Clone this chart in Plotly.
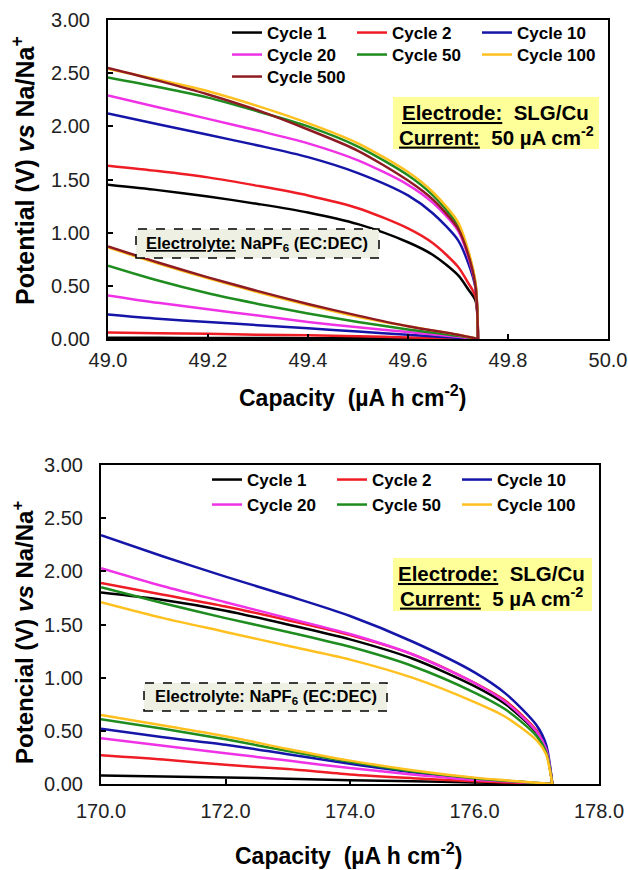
import plotly.graph_objects as go

# ---------------- DATA ----------------
cycles_top = ["Cycle 1", "Cycle 2", "Cycle 10", "Cycle 20", "Cycle 50", "Cycle 100", "Cycle 500"]
cycles_bot = ["Cycle 1", "Cycle 2", "Cycle 10", "Cycle 20", "Cycle 50", "Cycle 100"]

# Top panel (50 uA cm-2): upper (high-potential) branch
top_x_up = [49.0, 49.1, 49.2, 49.3, 49.4, 49.5, 49.6, 49.65, 49.7, 49.72, 49.735, 49.74]
top_up = {
    "Cycle 1":   [1.45, 1.40, 1.34, 1.27, 1.19, 1.08, 0.91, 0.79, 0.60, 0.47, 0.36, 0.0],
    "Cycle 2":   [1.63, 1.58, 1.52, 1.44, 1.35, 1.23, 1.04, 0.90, 0.68, 0.53, 0.40, 0.0],
    "Cycle 10":  [2.12, 2.02, 1.92, 1.82, 1.71, 1.56, 1.35, 1.18, 0.93, 0.72, 0.48, 0.0],
    "Cycle 20":  [2.29, 2.18, 2.07, 1.96, 1.84, 1.68, 1.45, 1.28, 1.02, 0.78, 0.50, 0.0],
    "Cycle 50":  [2.46, 2.37, 2.27, 2.14, 2.00, 1.81, 1.54, 1.35, 1.07, 0.82, 0.52, 0.0],
    "Cycle 100": [2.54, 2.44, 2.33, 2.19, 2.03, 1.84, 1.57, 1.38, 1.10, 0.84, 0.53, 0.0],
    "Cycle 500": [2.55, 2.43, 2.30, 2.15, 1.97, 1.77, 1.49, 1.31, 1.04, 0.80, 0.50, 0.0],
}
# Top panel: lower (low-potential) branch
top_x_low = [49.0, 49.1, 49.2, 49.3, 49.4, 49.5, 49.6, 49.7, 49.74]
top_low = {
    "Cycle 1":   [0.012, 0.011, 0.010, 0.009, 0.008, 0.006, 0.004, 0.002, 0.0],
    "Cycle 2":   [0.06, 0.055, 0.05, 0.04, 0.035, 0.025, 0.015, 0.005, 0.0],
    "Cycle 10":  [0.23, 0.19, 0.16, 0.13, 0.10, 0.07, 0.04, 0.012, 0.0],
    "Cycle 20":  [0.41, 0.34, 0.28, 0.22, 0.16, 0.11, 0.065, 0.02, 0.0],
    "Cycle 50":  [0.69, 0.55, 0.43, 0.33, 0.24, 0.16, 0.09, 0.03, 0.0],
    "Cycle 100": [0.86, 0.71, 0.57, 0.44, 0.32, 0.21, 0.12, 0.04, 0.0],
    "Cycle 500": [0.87, 0.72, 0.58, 0.45, 0.33, 0.22, 0.12, 0.04, 0.0],
}

# Bottom panel (5 uA cm-2): upper branch
bot_x_up = [170.0, 171.0, 172.0, 173.0, 174.0, 175.0, 176.0, 176.5, 177.0, 177.15, 177.25]
bot_up = {
    "Cycle 1":   [1.80, 1.73, 1.63, 1.50, 1.36, 1.18, 0.92, 0.75, 0.48, 0.32, 0.0],
    "Cycle 2":   [1.89, 1.78, 1.67, 1.54, 1.40, 1.22, 0.95, 0.78, 0.50, 0.33, 0.0],
    "Cycle 10":  [2.34, 2.14, 1.95, 1.77, 1.58, 1.34, 1.05, 0.85, 0.55, 0.37, 0.0],
    "Cycle 20":  [2.03, 1.86, 1.71, 1.56, 1.41, 1.22, 0.95, 0.77, 0.49, 0.33, 0.0],
    "Cycle 50":  [1.85, 1.70, 1.56, 1.43, 1.29, 1.11, 0.86, 0.70, 0.45, 0.30, 0.0],
    "Cycle 100": [1.71, 1.56, 1.43, 1.30, 1.17, 1.00, 0.77, 0.63, 0.41, 0.28, 0.0],
}
# Bottom panel: lower branch
bot_x_low = [170.0, 171.0, 172.0, 173.0, 174.0, 175.0, 176.0, 176.5, 177.0, 177.25]
bot_low = {
    "Cycle 1":   [0.08, 0.07, 0.06, 0.05, 0.035, 0.025, 0.015, 0.01, 0.005, 0.0],
    "Cycle 2":   [0.27, 0.23, 0.18, 0.14, 0.09, 0.055, 0.025, 0.015, 0.005, 0.0],
    "Cycle 10":  [0.52, 0.44, 0.37, 0.28, 0.19, 0.11, 0.05, 0.03, 0.01, 0.0],
    "Cycle 20":  [0.43, 0.36, 0.29, 0.22, 0.15, 0.09, 0.04, 0.025, 0.008, 0.0],
    "Cycle 50":  [0.61, 0.52, 0.42, 0.31, 0.21, 0.12, 0.055, 0.03, 0.01, 0.0],
    "Cycle 100": [0.65, 0.55, 0.45, 0.33, 0.22, 0.13, 0.06, 0.035, 0.012, 0.0],
}

colors = {
    "Cycle 1": "#000000",
    "Cycle 2": "#EE1C24",
    "Cycle 10": "#1515A8",
    "Cycle 20": "#F032E6",
    "Cycle 50": "#1E8C1E",
    "Cycle 100": "#FFC020",
    "Cycle 500": "#8E1B22",
}

W, H = 628, 870
def px(x):
    return x / W
def py(y):
    return 1 - y / H

FONT = "Arial, Liberation Sans, sans-serif"

fig = go.Figure()

top_legend_of = {"Cycle 1": "legend", "Cycle 2": "legend", "Cycle 10": "legend",
                 "Cycle 20": "legend2", "Cycle 50": "legend2", "Cycle 100": "legend2",
                 "Cycle 500": "legend3"}
bot_legend_of = {"Cycle 1": "legend4", "Cycle 2": "legend4", "Cycle 10": "legend4",
                 "Cycle 20": "legend5", "Cycle 50": "legend5", "Cycle 100": "legend5"}

for c in cycles_top:
    xs = top_x_up + top_x_low[::-1]
    ys = top_up[c] + top_low[c][::-1]
    fig.add_trace(go.Scatter(x=xs, y=ys, mode="lines", name=c,
                             line=dict(color=colors[c], width=2.5, shape="spline", smoothing=0.8),
                             xaxis="x", yaxis="y", legend=top_legend_of[c]))
for c in cycles_bot:
    xs = bot_x_up + bot_x_low[::-1]
    ys = bot_up[c] + bot_low[c][::-1]
    fig.add_trace(go.Scatter(x=xs, y=ys, mode="lines", name=c,
                             line=dict(color=colors[c], width=2.5, shape="spline", smoothing=0.8),
                             xaxis="x2", yaxis="y2", legend=bot_legend_of[c]))

axis_common = dict(showline=True, linecolor="black", linewidth=2, mirror=True,
                   ticks="inside", ticklen=5, tickwidth=1.5, tickcolor="black",
                   showgrid=False, zeroline=False, automargin=False,
                   tickfont=dict(family=FONT, size=20, color="#222222"))

fig.update_layout(
    width=W, height=H, margin=dict(l=0, r=0, t=0, b=0, autoexpand=False),
    paper_bgcolor="white", plot_bgcolor="white",
    xaxis=dict(domain=[px(108), px(608)], range=[49.0, 50.0], dtick=0.2, tickformat=".1f",
               anchor="y", ticklabelstandoff=2, **axis_common),
    yaxis=dict(domain=[py(339), py(20)], range=[0, 3], dtick=0.5, tickformat=".2f",
               anchor="x", ticklabelstandoff=12, **axis_common),
    xaxis2=dict(domain=[px(101), px(599)], range=[170.0, 178.0], dtick=2, tickformat=".1f",
                anchor="y2", ticklabelstandoff=8, **axis_common),
    yaxis2=dict(domain=[py(784), py(465)], range=[0, 3], dtick=0.5, tickformat=".2f",
                anchor="x2", ticklabelstandoff=12, **axis_common),
)

leg_common = dict(orientation="h", xanchor="left", yanchor="middle",
                  bgcolor="rgba(0,0,0,0)", borderwidth=0, itemwidth=30,
                  entrywidth=80, entrywidthmode="pixels",
                  font=dict(family=FONT, size=17, color="black", weight="bold"))
fig.update_layout(
    legend=dict(x=px(227), y=py(33), **leg_common),
    legend2=dict(x=px(227), y=py(55), **leg_common),
    legend3=dict(x=px(227), y=py(77), **leg_common),
    legend4=dict(x=px(207), y=py(480), **leg_common),
    legend5=dict(x=px(207), y=py(505), **leg_common),
)

shapes = [
    dict(type="rect", xref="paper", yref="paper", x0=px(393), x1=px(599), y0=py(149), y1=py(97),
         fillcolor="#FFFF99", line=dict(width=0), layer="above"),
    dict(type="rect", xref="paper", yref="paper", x0=px(136), x1=px(379), y0=py(258), y1=py(229),
         fillcolor="#EEF0E4", line=dict(color="black", width=1.5, dash="dash"), layer="above"),
    dict(type="rect", xref="paper", yref="paper", x0=px(393), x1=px(592), y0=py(611), y1=py(558),
         fillcolor="#FFFF99", line=dict(width=0), layer="above"),
    dict(type="rect", xref="paper", yref="paper", x0=px(144), x1=px(387), y0=py(711), y1=py(683),
         fillcolor="#EEF0E4", line=dict(color="black", width=1.5, dash="dash"), layer="above"),
]
fig.update_layout(shapes=shapes)

NB = "\u00a0"
def ann(text, x, y, size, angle=0):
    return dict(text=text, xref="paper", yref="paper", x=px(x), y=py(y),
                xanchor="center", yanchor="middle", showarrow=False, textangle=angle,
                font=dict(family=FONT, size=size, color="black"))

annotations = [
    ann("<b><u>Electrode:</u>" + NB + NB + "SLG/Cu</b>", 495, 113, 20.5),
    ann("<b><u>Current:</u>" + NB + NB + "50 µA cm<sup>-2</sup></b>", 496, 136, 20.5),
    ann("<b><u>Electrolyte:</u> NaPF<sub>6</sub> (EC:DEC)</b>", 257, 244, 16.5),
    ann("<b><u>Electrode:</u>" + NB + NB + "SLG/Cu</b>", 491, 573, 20.5),
    ann("<b><u>Current:</u>" + NB + NB + "5 µA cm<sup>-2</sup></b>", 491, 597, 20.5),
    ann("<b>Electrolyte: NaPF<sub>6</sub> (EC:DEC)</b>", 266, 697, 16.5),
    ann("<b>Capacity" + NB + NB + "(µA h cm<sup>-2</sup>)</b>", 352, 396, 23),
    ann("<b>Capacity" + NB + NB + "(µA h cm<sup>-2</sup>)</b>", 348, 854, 23),
    ann("<b>Potential (V) <i>vs</i> Na/Na<sup>+</sup></b>", 23, 171, 25, -90),
    ann("<b>Potencial (V) <i>vs</i> Na/Na<sup>+</sup></b>", 23, 633, 24, -90),
]
fig.update_layout(annotations=annotations)

fig.write_html("out.html", config={"displayModeBar": False},
               post_script="document.body.style.margin='0';document.body.style.overflow='hidden';")
